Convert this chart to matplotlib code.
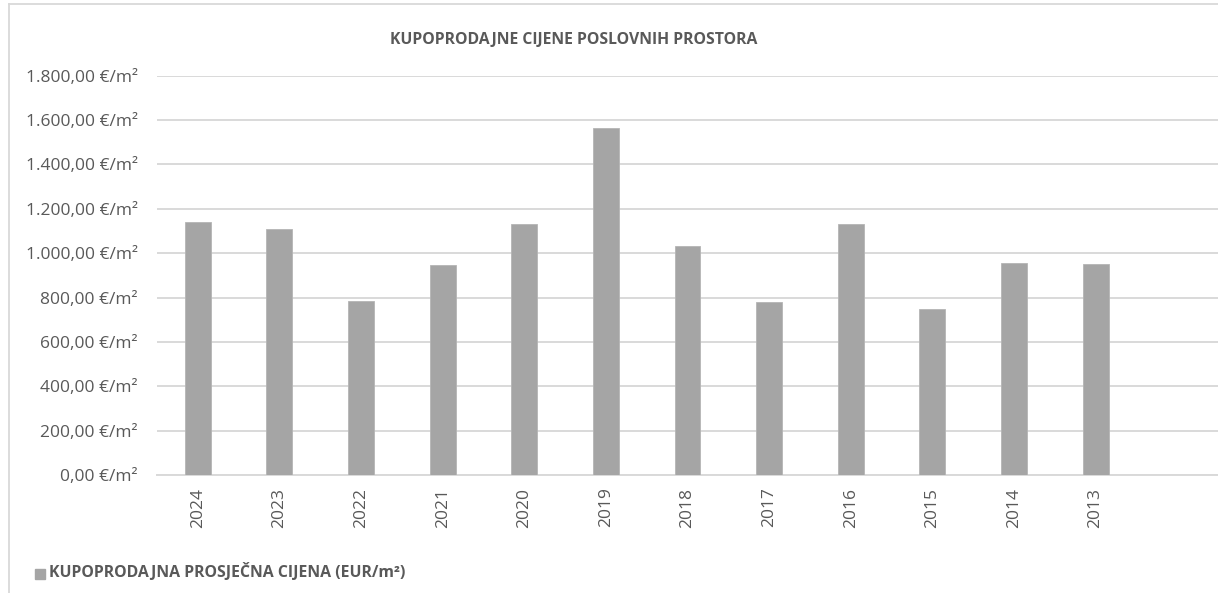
import matplotlib.pyplot as plt
from matplotlib.ticker import FuncFormatter
import matplotlib.patches as patches

plt.rcParams['font.family'] = ['Open Sans', 'DejaVu Sans']

# podaci
godine = ['2024', '2023', '2022', '2021', '2020', '2019', '2018', '2017', '2016', '2015', '2014', '2013']
cijene = [1140, 1110, 783, 948, 1131, 1566, 1034, 782, 1133, 747, 955, 950]

naslov = 'KUPOPRODAJNE CIJENE POSLOVNIH PROSTORA'
legenda = 'KUPOPRODAJNA PROSJEČNA CIJENA (EUR/m²)'

TEXT = '#595959'
GRID = '#D9D9D9'
BAR = '#A5A5A5'

fig = plt.figure(figsize=(12.18, 5.93), dpi=100)
ax = fig.add_axes([157 / 1218, 1 - 475 / 593, 1 - 157 / 1218, (475 - 75.7) / 593])

x = range(len(godine))
ax.bar(x, cijene, width=0.318, color=BAR, edgecolor='#B5B5B5', linewidth=0.6, zorder=3)

ax.set_xlim(-0.5, 12.5)
ax.set_ylim(0, 1800)
ax.set_yticks(range(0, 1801, 200))


def fmt(v, pos):
    s = f'{v:,.2f}'.replace(',', 'X').replace('.', ',').replace('X', '.')
    return s + ' €/m²'


ax.yaxis.set_major_formatter(FuncFormatter(fmt))
ax.set_xticks(list(x))
ax.set_xticklabels(godine, rotation=90)
ax.tick_params(axis='y', length=0, pad=14, labelsize=12.5, labelcolor=TEXT)
ax.tick_params(axis='x', length=0, pad=9, labelsize=12.5, labelcolor=TEXT)
ax.grid(axis='y', color=GRID, linewidth=1.4, zorder=0)
for s in ['top', 'right', 'left']:
    ax.spines[s].set_visible(False)
ax.spines['bottom'].set_color(GRID)
ax.spines['bottom'].set_linewidth(1.4)

fig.text(574 / 1218, 1 - 40 / 593, naslov, ha='center', va='center',
         fontsize=11.3, fontweight='bold', color=TEXT)

# legenda
fig.patches.append(patches.Rectangle((35 / 1218, 1 - 579 / 593), 10 / 1218, 10 / 593,
                                     transform=fig.transFigure, color=BAR))
fig.text(49 / 1218, 1 - 572 / 593, legenda, ha='left', va='center',
         fontsize=11.4, fontweight='bold', color=TEXT)

# okvir grafikona (lijevo i gore)
fig.add_artist(plt.Line2D([9 / 1218, 9 / 1218], [0, 1 - 4 / 593], transform=fig.transFigure,
                          color=GRID, linewidth=1.3))
fig.add_artist(plt.Line2D([9 / 1218, 1], [1 - 4 / 593, 1 - 4 / 593], transform=fig.transFigure,
                          color=GRID, linewidth=1.3))

fig.savefig('out.png', dpi=100, facecolor='white')
